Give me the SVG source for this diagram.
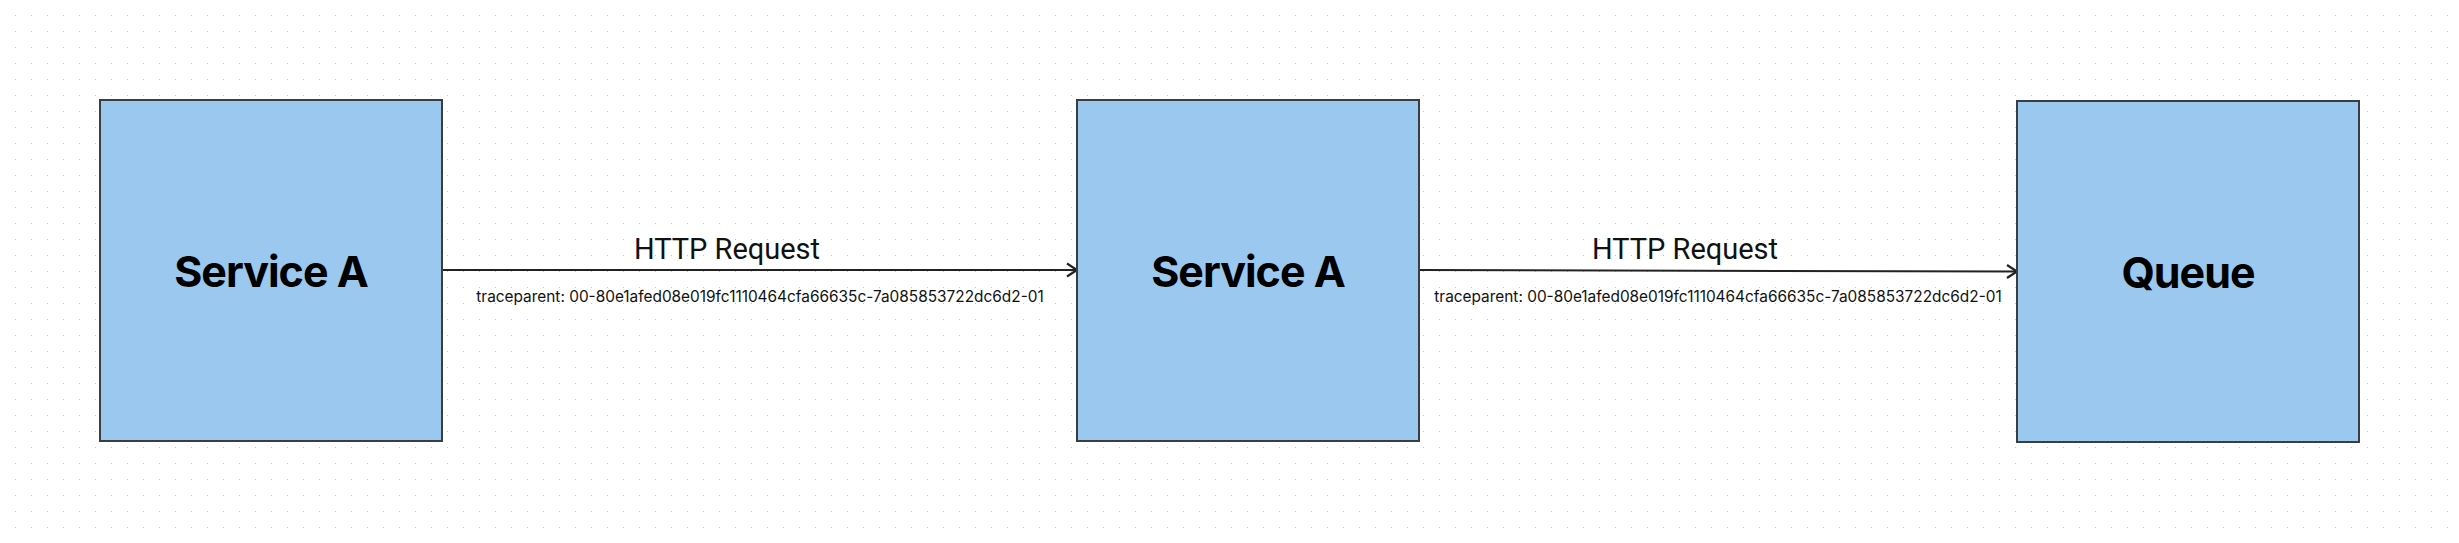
<svg xmlns="http://www.w3.org/2000/svg" width="2459" height="543" viewBox="0 0 2459 543">
<style>
.node rect{fill:#9ac8ee;stroke:#3a3d42;stroke-width:2}
.title{font-family:Inter,"Liberation Sans",sans-serif;font-weight:700;font-size:43px;letter-spacing:-1px;fill:#000;text-anchor:middle}
.lbl{font-family:Roboto,"Liberation Sans",sans-serif;font-size:29px;fill:#111;text-anchor:middle}
.tp{font-family:Inter,"Liberation Sans",sans-serif;font-size:15.4px;fill:#111;text-anchor:middle}
.edge{stroke:#222;stroke-width:2;fill:none}
</style>
<defs>
<pattern id="dots" x="0" y="0" width="16" height="16" patternUnits="userSpaceOnUse">
<rect x="15" y="15" width="1.6" height="1.6" fill="#c4c4c4"/>
</pattern>
<marker id="arr" markerWidth="14" markerHeight="16" refX="11" refY="8" orient="auto" markerUnits="userSpaceOnUse">
<path d="M1,1.5 L11,8 L1,14.5" fill="none" stroke="#222" stroke-width="2.2"/>
</marker>
</defs>
<rect width="2459" height="543" fill="#fff"/>
<rect width="2459" height="543" fill="url(#dots)"/>
<g id="edges">
<g id="edge1">
<line class="edge" x1="442" y1="270" x2="1077" y2="270" marker-end="url(#arr)"/>
<text class="lbl" x="727" y="259">HTTP Request</text>
<text class="tp" x="760" y="302">traceparent: 00-80e1afed08e019fc1110464cfa66635c-7a085853722dc6d2-01</text>
</g>
<g id="edge2">
<line class="edge" x1="1419" y1="270" x2="2017" y2="271.5" marker-end="url(#arr)"/>
<text class="lbl" x="1685" y="259">HTTP Request</text>
<text class="tp" x="1718" y="302">traceparent: 00-80e1afed08e019fc1110464cfa66635c-7a085853722dc6d2-01</text>
</g>
</g>
<g id="node-service-a-1" class="node">
<rect x="100" y="100" width="342" height="341"/>
<text class="title" x="271" y="287">Service A</text>
</g>
<g id="node-service-a-2" class="node">
<rect x="1077" y="100" width="342" height="341"/>
<text class="title" x="1248" y="287">Service A</text>
</g>
<g id="node-queue" class="node">
<rect x="2017" y="101" width="342" height="341"/>
<text class="title" x="2188" y="288">Queue</text>
</g>
</svg>
